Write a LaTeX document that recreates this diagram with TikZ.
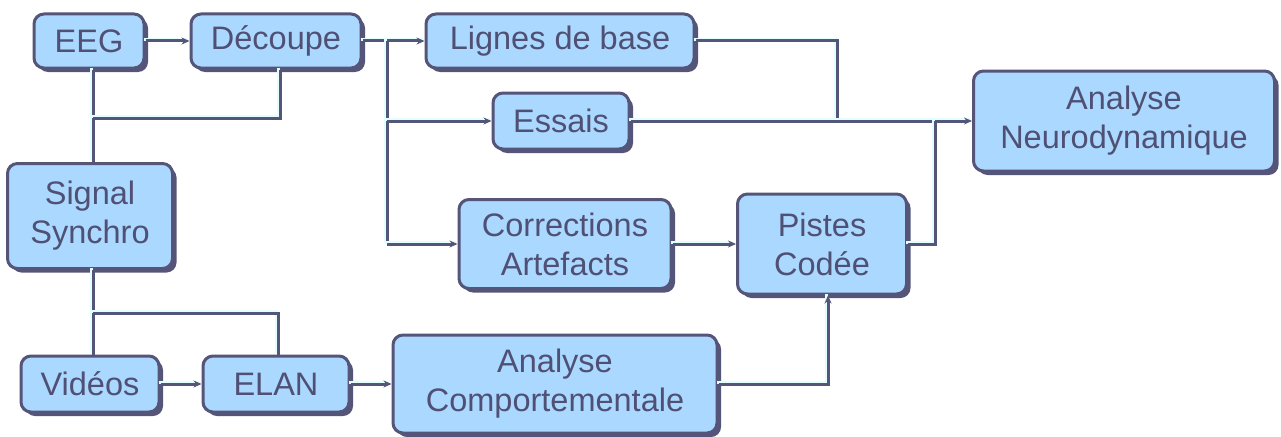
\documentclass[tikz,border=0pt]{standalone}
\usepackage{fontspec}
\setmainfont{Liberation Sans}
\usetikzlibrary{arrows.meta,shadows}
\definecolor{boxfill}{HTML}{AAD8FF}
\definecolor{edge}{HTML}{55557A}
\definecolor{txt}{HTML}{505074}
\definecolor{hl}{HTML}{E2FFFF}
\begin{document}
\begin{tikzpicture}[x=1pt,y=-1pt,
 box/.style={rounded corners=10pt, draw=edge, line width=3pt, fill=boxfill, text=txt, align=center, inner sep=0pt,
   font=\fontsize{32.5}{39}\selectfont,
   general shadow={fill=edge, shadow xshift=4pt, shadow yshift=-4pt}},
 conn/.style={draw=edge, line width=3pt,
   preaction={draw=hl, line width=3pt, arrows=-, transform canvas={xshift=-1.8pt,yshift=1.8pt}}},
 arr/.style={conn, -{Stealth[length=8pt,width=7pt]}}
]
\fill[white] (0,0) rectangle (1281,436);
\useasboundingbox (0,0) rectangle (1281,436);

\node[box, minimum width=110pt, minimum height=54pt] (eeg) at (89,41) {EEG};
\node[box, minimum width=170pt, minimum height=54pt] (dec) at (276,41) {Découpe};
\node[box, minimum width=268pt, minimum height=54pt] (lig) at (560,41) {Lignes de base};
\node[box, minimum width=136pt, minimum height=56pt] (ess) at (561,121) {Essais};
\node[box, minimum width=301pt, minimum height=100pt] (neuro) at (1124,121) {Analyse\\Neurodynamique};
\node[box, minimum width=165pt, minimum height=105pt] (sig) at (90,216) {Signal\\Synchro};
\node[box, minimum width=212pt, minimum height=89pt] (corr) at (565,244) {Corrections\\Artefacts};
\node[box, minimum width=169pt, minimum height=100pt] (pist) at (822,244) {Pistes\\Codée};
\node[box, minimum width=138pt, minimum height=56pt] (vid) at (90,384) {Vidéos};
\node[box, minimum width=146pt, minimum height=56pt] (elan) at (276,384) {ELAN};
\node[box, minimum width=324pt, minimum height=98pt] (comp) at (555,384) {Analyse\\Comportementale};

\coordinate (jD) at (387,43);
\coordinate (jL) at (837,43);
\coordinate (jP) at (935,245);
\coordinate (jV) at (93,118);
\coordinate (jK) at (280,118);
\coordinate (jS) at (93,313);
\coordinate (jE) at (278,313);
\coordinate (jB) at (828,384);

\draw[arr] (eeg.east) -- (dec.west);
\draw[conn] (dec.east) -- (dec.east -| jD);
\draw[arr] (dec.east -| jD) -- (lig.west);
\draw[conn] (dec.east -| jD) -- (corr.west -| jD);
\draw[arr] (ess.west -| jD) -- (ess.west);
\draw[arr] (corr.west -| jD) -- (corr.west);

\draw[conn] (lig.east) -- (lig.east -| jL) -- (neuro.west -| jL);
\draw[arr] (ess.east) -- (neuro.west);
\draw[conn] (pist.east) -- (pist.east -| jP) -- (neuro.west -| jP);
\draw[arr] (corr.east) -- (pist.west);

\draw[conn] (eeg.south -| jV) -- (sig.north -| jV);
\draw[conn] (dec.south -| jK) -- (jK) -- (jV);
\draw[conn] (sig.south -| jS) -- (jS) -- (vid.north -| jS);
\draw[conn] (jS) -- (jE) -- (elan.north -| jE);

\draw[arr] (vid.east) -- (elan.west);
\draw[arr] (elan.east) -- (comp.west);
\draw[arr] (comp.east) -- (jB) -- (pist.south -| jB);
\end{tikzpicture}
\end{document}
